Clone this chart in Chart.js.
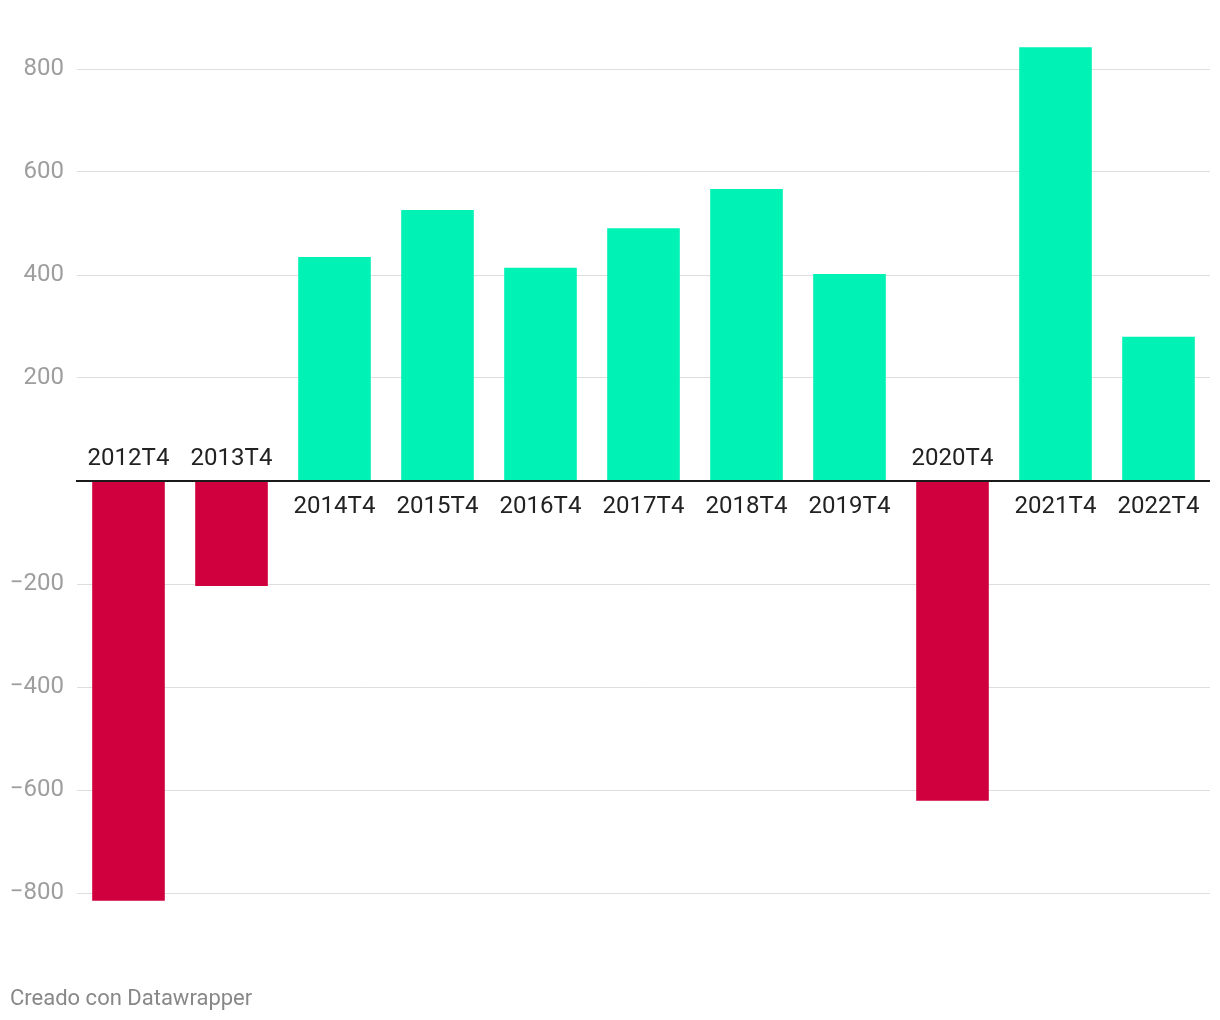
<!DOCTYPE html>
<html>
<head>
<meta charset="utf-8">
<script src="https://cdn.jsdelivr.net/npm/chart.js@4"></script>
<style>
  html, body { margin: 0; padding: 0; background: #fff; }
  #wrap { position: relative; width: 1220px; height: 1020px; }
</style>
</head>
<body>
<div id="wrap"><canvas id="c"></canvas></div>
<script>
const categories = ['2012T4','2013T4','2014T4','2015T4','2016T4','2017T4','2018T4','2019T4','2020T4','2021T4','2022T4'];
const values = [-815, -204, 435, 526, 414, 491, 567, 402, -621, 842, 280];
const yTicks = [-800, -600, -400, -200, 200, 400, 600, 800];
const footerText = 'Creado con Datawrapper';

const POS = '#01f2b5';
const NEG = '#cf003d';
const FONT = 'Roboto, "Noto Sans", sans-serif';

const overlay = {
  id: 'overlay',
  afterDatasetsDraw(chart) {
    const ctx = chart.ctx;
    const xs = chart.scales.x, ys = chart.scales.y;
    const area = chart.chartArea;
    const z = ys.getPixelForValue(0);
    ctx.save();
    // zero line
    ctx.strokeStyle = '#1a1a1a';
    ctx.lineWidth = 2;
    ctx.beginPath();
    ctx.moveTo(area.left - 1, z);
    ctx.lineTo(area.right, z);
    ctx.stroke();
    // category labels
    ctx.fillStyle = '#222';
    ctx.font = '24px ' + FONT;
    ctx.textAlign = 'center';
    ctx.textBaseline = 'alphabetic';
    categories.forEach((c, i) => {
      const x = xs.getPixelForValue(i);
      const y = values[i] >= 0 ? z + 31.5 : z - 16.5;
      ctx.fillText(c, x, y);
    });
    // footer
    ctx.fillStyle = '#888';
    ctx.font = '22px ' + FONT;
    ctx.textAlign = 'left';
    ctx.fillText(footerText, 10, 1005);
    ctx.restore();
  }
};

new Chart(document.getElementById('c'), {
  type: 'bar',
  data: {
    labels: categories,
    datasets: [{
      data: values,
      backgroundColor: values.map(v => v >= 0 ? POS : NEG),
      borderWidth: 0,
      categoryPercentage: 1,
      barPercentage: 0.705
    }]
  },
  options: {
    responsive: true,
    maintainAspectRatio: false,
    animation: false,
    devicePixelRatio: 1,
    layout: { padding: { top: 17.5, bottom: 75.5, left: 0, right: 10 } },
    plugins: { legend: { display: false }, tooltip: { enabled: false } },
    scales: {
      x: { display: false },
      y: {
        min: -900,
        max: 900,
        afterBuildTicks(scale) { scale.ticks = yTicks.map(v => ({ value: v })); },
        afterFit(scale) {
          scale.width = 77;
          scale.paddingTop = 0;
          scale.paddingBottom = 0;
        },
        border: { display: false },
        grid: { color: '#dedede', lineWidth: 1, drawTicks: false },
        ticks: {
          padding: 13,
          color: '#9e9e9e',
          font: { family: FONT, size: 24 },
          callback: v => v < 0 ? '\u2212' + Math.abs(v) : String(v)
        }
      }
    }
  },
  plugins: [overlay]
});
</script>
</body>
</html>
